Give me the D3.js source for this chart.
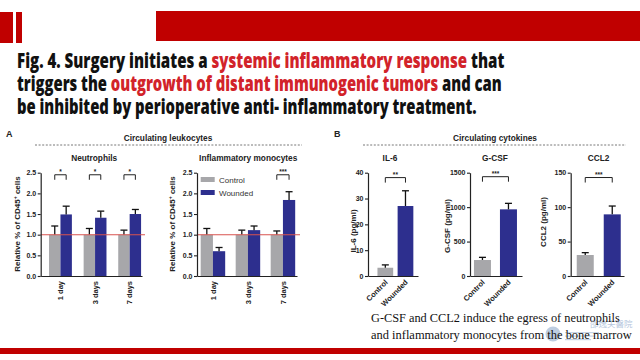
<!DOCTYPE html>
<html><head><meta charset="utf-8">
<script src="https://cdn.jsdelivr.net/npm/d3@7"></script>
<style>body{margin:0;background:#fff}svg{display:block}</style>
</head><body><svg id="c" width="640" height="360"></svg>
<script>
// ---------- data ----------
const seriesNames = ["Control", "Wounded"];
const leukoDays = ["1 day", "3 days", "7 days"];
const leukoTicks = [0, 0.5, 1.0, 1.5, 2.0, 2.5];
const neutroControl = [1.00, 1.00, 1.00];
const neutroControlSem = [0.21, 0.15, 0.11];
const neutroWounded = [1.49, 1.41, 1.50];
const neutroWoundedSem = [0.20, 0.16, 0.11];
const neutroSig = ["*", "*", "*"];
const monoControl = [1.00, 1.00, 1.00];
const monoControlSem = [0.15, 0.11, 0.09];
const monoWounded = [0.60, 1.11, 1.84];
const monoWoundedSem = [0.09, 0.10, 0.20];
const monoSig = ["", "", "***"];
const leukoSigLevel = 2.45;

const cytoGroups = ["Control", "Wounded"];
const il6Values = [3.2, 27.1];
const il6Sem = [1.1, 5.9];
const il6Ticks = [0, 10, 20, 30, 40];
const il6Sig = "**";
const il6SigLevel = 38.1;
const gcsfValues = [232, 968];
const gcsfSem = [39, 87];
const gcsfTicks = [0, 500, 1000, 1500];
const gcsfSig = "***";
const gcsfSigLevel = 1442;
const ccl2Values = [30.5, 89.5];
const ccl2Sem = [3.4, 12.1];
const ccl2Ticks = [0, 50, 100, 150];
const ccl2Sig = "***";
const ccl2SigLevel = 143;

// ---------- styles ----------
const RED = "#c00000";
const TITLE_RED = "#d2232a";
const GRAY = "#a7a7aa";
const BLUE = "#2d2f8e";
const REF = "#d9534f";
const SANS = "'Liberation Sans', Arial, sans-serif";
const colorOf = {Control: GRAY, Wounded: BLUE};

const svg = d3.select("#c");
svg.append("rect").attr("width", 640).attr("height", 360).attr("fill", "#fff");

// header bars
svg.append("rect").attr("x", 0).attr("y", 12).attr("width", 13).attr("height", 31).attr("fill", RED);
svg.append("rect").attr("x", 16).attr("y", 12).attr("width", 6).attr("height", 31).attr("fill", RED);
svg.append("rect").attr("x", 156).attr("y", 11).attr("width", 484).attr("height", 30).attr("fill", RED);
// footer bar
svg.append("rect").attr("x", 0).attr("y", 348).attr("width", 640).attr("height", 6).attr("fill", RED);

// text squeezed horizontally to a target width with a scale transform
function squeezed(x, y, len, font, size, weight, parts) {
  const t = svg.append("text").attr("x", 0).attr("y", 0)
    .attr("font-family", font).attr("font-weight", weight).attr("font-size", size);
  parts.forEach(p => t.append("tspan").attr("fill", p[1]).text(p[0]));
  const w = t.node().getComputedTextLength();
  t.attr("transform", `translate(${x},${y}) scale(${len / w},1)`);
  return t;
}

// title
const titleLines = [
  {y: 68, len: 488, parts: [["Fig. 4. Surgery initiates a ", "#111"], ["systemic inflammatory response", TITLE_RED], [" that", "#111"]]},
  {y: 91, len: 485, parts: [["triggers the ", "#111"], ["outgrowth of distant immunogenic tumors", TITLE_RED], [" and can", "#111"]]},
  {y: 114, len: 460, parts: [["be inhibited by perioperative anti- inflammatory treatment.", "#111"]]}
];
titleLines.forEach(l => squeezed(17, l.y, l.len, "'Open Sans', Lato, sans-serif", 21, 800, l.parts));

function txt(x, y, s, size, opts = {}) {
  return svg.append("text").attr("x", x).attr("y", y).text(s)
    .attr("font-family", SANS).attr("font-size", size)
    .attr("font-weight", opts.weight || 700)
    .attr("text-anchor", opts.anchor || "middle")
    .attr("fill", opts.fill || "#222");
}

// panel headers
txt(6, 137, "A", 9, {anchor: "start"});
txt(334, 137, "B", 9, {anchor: "start"});
txt(168, 140.7, "Circulating leukocytes", 8.3);
txt(495, 140.7, "Circulating cytokines", 8.3);
[[35, 302], [363, 626]].forEach(r => svg.append("line").attr("x1", r[0]).attr("x2", r[1])
  .attr("y1", 145).attr("y2", 145).attr("stroke", "#555").attr("stroke-width", 0.8)
  .attr("stroke-dasharray", "2,1.6"));

const Y0 = 276, Y1 = 172.7;

function yAxis(g, y, ticks, fmt) {
  g.call(d3.axisLeft(y).tickValues(ticks).tickSize(3).tickSizeOuter(0).tickPadding(1.5).tickFormat(fmt));
  g.select(".domain").attr("stroke", "#222").attr("stroke-width", 1.2);
  g.selectAll(".tick line").attr("stroke", "#222").attr("stroke-width", 1.1);
  g.selectAll("text").attr("font-family", SANS).attr("font-weight", 700).attr("font-size", 7).attr("fill", "#222");
}

function yLabel(x, yc, main, sup, rest) {
  const t = svg.append("text").attr("transform", `translate(${x},${yc}) rotate(-90)`)
    .attr("x", 0).attr("text-anchor", "middle").attr("dy", "0.35em")
    .attr("font-family", SANS).attr("font-weight", 700).attr("font-size", 8).attr("fill", "#222");
  t.append("tspan").text(main);
  if (sup) {
    t.append("tspan").attr("font-size", 5).attr("dy", -3).text(sup);
    t.append("tspan").attr("dy", 3).text(rest);
  }
}

function errBar(g, cx, y, v, sem) {
  g.append("line").attr("x1", cx).attr("x2", cx).attr("y1", y(v)).attr("y2", y(v + sem))
    .attr("stroke", "#111").attr("stroke-width", 1.3);
  g.append("line").attr("x1", cx - 3.5).attr("x2", cx + 3.5).attr("y1", y(v + sem)).attr("y2", y(v + sem))
    .attr("stroke", "#111").attr("stroke-width", 1.3);
}

function bracket(g, x1, x2, yTop, stars) {
  g.append("path").attr("d", `M${x1},${yTop + 5}V${yTop}H${x2}V${yTop + 5}`)
    .attr("fill", "none").attr("stroke", "#222").attr("stroke-width", 1);
  g.append("text").attr("x", (x1 + x2) / 2).attr("y", yTop - 0.5).text(stars)
    .attr("text-anchor", "middle").attr("font-family", SANS).attr("font-weight", 700)
    .attr("font-size", 6.5).attr("fill", "#222");
}

// ---------- grouped leukocyte charts ----------
function grouped(o) {
  const y = d3.scaleLinear().domain([0, 2.5]).range([Y0, Y1]);
  const gx = d3.scaleBand().domain(leukoDays).range([o.x0, o.x1])
    .paddingInner(o.pi).paddingOuter(o.po).align(o.al);
  const sx = d3.scaleBand().domain(seriesNames).range([0, gx.bandwidth()]);
  const g = svg.append("g");
  const rows = leukoDays.map((d, i) => ({d, vals: [
    {s: "Control", v: o.ctrl[i], e: o.ctrlSem[i]},
    {s: "Wounded", v: o.wnd[i], e: o.wndSem[i]}], sig: o.sig[i]}));
  rows.forEach(r => {
    r.vals.forEach(b => {
      const x = gx(r.d) + sx(b.s);
      g.append("rect").attr("x", x).attr("y", y(b.v)).attr("width", sx.bandwidth())
        .attr("height", Y0 - y(b.v)).attr("fill", colorOf[b.s]);
      errBar(g, x + sx.bandwidth() / 2, y, b.v, b.e);
    });
    if (r.sig) bracket(g, gx(r.d) + sx("Control") + sx.bandwidth() / 2,
      gx(r.d) + sx("Wounded") + sx.bandwidth() / 2, y(leukoSigLevel), r.sig);
  });
  // reference line at 1.0
  g.append("line").attr("x1", o.x0).attr("x2", o.x1 + 3).attr("y1", y(1)).attr("y2", y(1))
    .attr("stroke", REF).attr("stroke-width", 1.1);
  const xa = g.append("g").attr("transform", `translate(0,${Y0})`)
    .call(d3.axisBottom(gx).tickSize(0).tickSizeOuter(0));
  xa.select(".domain").attr("stroke", "#222").attr("stroke-width", 1.2);
  xa.selectAll("text").attr("transform", "rotate(-90)").attr("x", -5).attr("y", 0).attr("dy", "0.35em")
    .attr("text-anchor", "end").attr("font-family", SANS).attr("font-weight", 700)
    .attr("font-size", 7.5).attr("fill", "#222");
  const ya = g.append("g").attr("transform", `translate(${o.x0},0)`);
  yAxis(ya, y, leukoTicks, d3.format(".1f"));
  txt(o.titleX, 161, o.title, 8.3);
  yLabel(o.labelX, 224, "Relative % of CD45", "+", " cells");
}

grouped({x0: 40.7, x1: 142, pi: 0.34, po: 0.134, al: 0.9, ctrl: neutroControl, ctrlSem: neutroControlSem,
  wnd: neutroWounded, wndSem: neutroWoundedSem, sig: neutroSig, title: "Neutrophils", titleX: 94.2, labelX: 17});
grouped({x0: 197, x1: 297, pi: 0.3, po: 0.0785, al: 0.67, ctrl: monoControl, ctrlSem: monoControlSem,
  wnd: monoWounded, wndSem: monoWoundedSem, sig: monoSig, title: "Inflammatory monocytes", titleX: 248.2, labelX: 172});

// legend
seriesNames.forEach((s, i) => {
  const yy = 177 + i * 13;
  svg.append("rect").attr("x", 200.7).attr("y", yy).attr("width", 14).attr("height", 5).attr("fill", colorOf[s]);
  txt(219, yy + 5.8, s, 8, {anchor: "start", weight: 400, fill: "#333"});
});

// ---------- cytokine charts ----------
function cyto(o) {
  const y = d3.scaleLinear().domain([0, o.ticks[o.ticks.length - 1]]).range([Y0, Y1]);
  const x = d3.scaleBand().domain(cytoGroups).range([o.x0, o.x1])
    .paddingInner(o.pi).paddingOuter(o.po).align(o.al);
  const g = svg.append("g");
  cytoGroups.forEach((c, i) => {
    g.append("rect").attr("x", x(c)).attr("y", y(o.vals[i])).attr("width", x.bandwidth())
      .attr("height", Y0 - y(o.vals[i])).attr("fill", colorOf[c]);
    errBar(g, x(c) + x.bandwidth() / 2, y, o.vals[i], o.sem[i]);
  });
  bracket(g, x("Control") + x.bandwidth() / 2, x("Wounded") + x.bandwidth() / 2, y(o.sigLevel), o.sig);
  const xa = g.append("g").attr("transform", `translate(0,${Y0})`)
    .call(d3.axisBottom(x).tickSize(0).tickSizeOuter(0));
  xa.select(".domain").attr("stroke", "#222").attr("stroke-width", 1.2);
  xa.selectAll("text").attr("transform", "translate(1,5) rotate(-45)").attr("x", 0).attr("y", 0)
    .attr("dy", "0.35em").attr("text-anchor", "end").attr("font-family", SANS).attr("font-weight", 700)
    .attr("font-size", 7.5).attr("fill", "#222");
  const ya = g.append("g").attr("transform", `translate(${o.x0},0)`);
  yAxis(ya, y, o.ticks, d3.format("d"));
  txt(o.titleX, 161, o.title, 8.3);
  yLabel(o.labelX, o.labelY, o.label);
}

cyto({x0: 368, x1: 418, pi: 0.22, po: 0.35, al: 0.67, vals: il6Values, sem: il6Sem, ticks: il6Ticks,
  sig: il6Sig, sigLevel: il6SigLevel, title: "IL-6", titleX: 390, label: "IL-6 (pg/ml)", labelX: 353, labelY: 231});
cyto({x0: 470, x1: 522, pi: 0.346, po: 0.173, al: 0.44, vals: gcsfValues, sem: gcsfSem, ticks: gcsfTicks,
  sig: gcsfSig, sigLevel: gcsfSigLevel, title: "G-CSF", titleX: 495, label: "G-CSF (pg/ml)", labelX: 447, labelY: 226});
cyto({x0: 570.7, x1: 624, pi: 0.37, po: 0.172, al: 0.65, vals: ccl2Values, sem: ccl2Sem, ticks: ccl2Ticks,
  sig: ccl2Sig, sigLevel: ccl2SigLevel, title: "CCL2", titleX: 598.5, label: "CCL2 (pg/ml)", labelX: 543, labelY: 222});

// watermark (faint, behind caption)
const wm = svg.append("g").attr("opacity", 0.5);
wm.append("circle").attr("cx", 553).attr("cy", 334).attr("r", 7.5).attr("fill", "#7e9cc4");
wm.append("text").attr("x", 590).attr("y", 327).text("邵逸夫醫院")
  .attr("font-family", "'Noto Sans CJK TC', sans-serif").attr("font-size", 8.5).attr("fill", "#6d8fc0");
[0, 1, 2].forEach(i => wm.append("rect").attr("x", 565).attr("y", 332 + i * 3.5)
  .attr("width", 34 - i * 4).attr("height", 1.2).attr("fill", "#8ea8cc"));

// caption
const SERIF = "'Liberation Serif', 'Times New Roman', serif";
squeezed(371, 321.5, 249, SERIF, 13, 400, [["G-CSF and CCL2 induce the egress of neutrophils", "#111"]]);
squeezed(371, 339, 261, SERIF, 13, 400, [["and inflammatory monocytes from the bone marrow", "#111"]]);
</script></body></html>
